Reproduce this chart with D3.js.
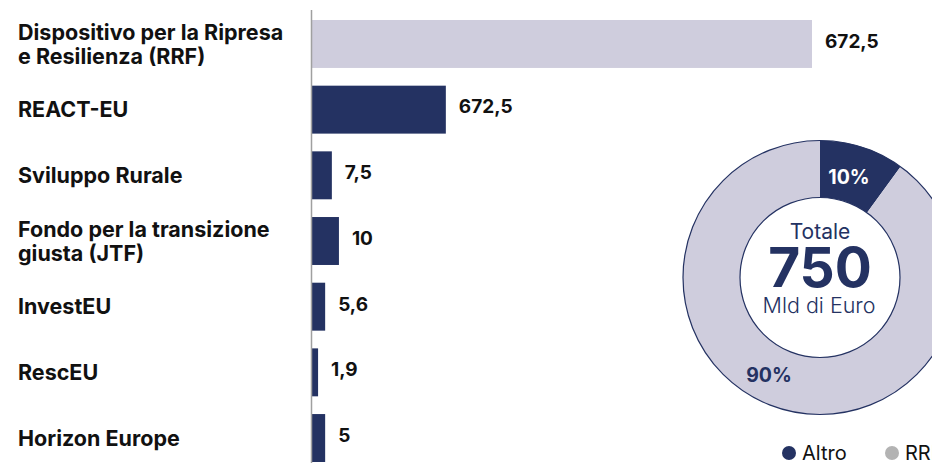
<!DOCTYPE html>
<html>
<head>
<meta charset="utf-8">
<script src="https://cdn.jsdelivr.net/npm/d3@7"></script>
<style>
  body { margin: 0; background: #fff; }
  svg { display: block; font-family: Inter, "Noto Sans", sans-serif; }
</style>
</head>
<body>
<div id="chart"></div>
<script>
// Dati
const categorie = [
  ["Dispositivo per la Ripresa", "e Resilienza (RRF)"],
  ["REACT-EU"],
  ["Sviluppo Rurale"],
  ["Fondo per la transizione", "giusta (JTF)"],
  ["InvestEU"],
  ["RescEU"],
  ["Horizon Europe"]
];
const etichette = ["672,5", "672,5", "7,5", "10", "5,6", "1,9", "5"];
// lunghezza delle barre come disegnate nell'originale (non proporzionali alle etichette)
const lunghezze = [672.5, 181, 28, 37.5, 19, 9.5, 19];
const ciambellaQuote = [10, 90];
const legendaNomi = ["Altro", "RRF"];

const navy = "#243262", lilla = "#cfcddd";

const W = 932, H = 463;
const svg = d3.select("#chart").append("svg")
  .attr("width", W).attr("height", H);

// Scale
const x = d3.scaleLinear().domain([0, 672.5]).range([0, 501]);
const y = d3.scaleBand()
  .domain(d3.range(categorie.length))
  .range([20, 462])
  .paddingInner(0.27)
  .paddingOuter(0);

const x0 = 311;

// Barre
svg.append("g").selectAll("rect")
  .data(lunghezze)
  .enter().append("rect")
  .attr("x", x0)
  .attr("y", (d, i) => y(i))
  .attr("width", d => x(d))
  .attr("height", y.bandwidth())
  .attr("fill", (d, i) => i === 0 ? lilla : navy);

// Asse verticale
svg.append("line")
  .attr("x1", x0 + 0.5).attr("x2", x0 + 0.5)
  .attr("y1", 10).attr("y2", H)
  .attr("stroke", "#a0a0a0").attr("stroke-width", 1.5);

// Etichette valori
svg.append("g").selectAll("text")
  .data(etichette)
  .enter().append("text")
  .attr("x", (d, i) => x0 + x(lunghezze[i]) + 13)
  .attr("y", (d, i) => y(i) + y.bandwidth() / 2 - 3)
  .attr("dy", "0.36em")
  .style("font-size", "19px")
  .style("font-weight", 700)
  .attr("fill", "#111")
  .text(d => d);

// Etichette categorie
const cat = svg.append("g").selectAll("text")
  .data(categorie)
  .enter().append("text")
  .attr("y", (d, i) => y(i) + y.bandwidth() / 2 - (d.length - 1) * 12)
  .style("font-size", "21.5px")
  .style("font-weight", 700)
  .attr("fill", "#111");
cat.selectAll("tspan")
  .data(d => d)
  .enter().append("tspan")
  .attr("x", 18)
  .attr("dy", (d, i) => i === 0 ? "0.36em" : 24)
  .text(d => d);

// Ciambella
const cx = 820, cy = 277.5, rOut = 137, rIn = 80;
const g = svg.append("g").attr("transform", `translate(${cx},${cy})`);
const pie = d3.pie().sort(null).value(d => d);
const arc = d3.arc().innerRadius(rIn).outerRadius(rOut);
const archi = pie(ciambellaQuote);

g.selectAll("path")
  .data(archi)
  .enter().append("path")
  .attr("d", arc)
  .attr("fill", (d, i) => i === 0 ? navy : lilla);

g.append("circle").attr("r", rOut).attr("fill", "none").attr("stroke", navy).attr("stroke-width", 1.2);
g.append("circle").attr("r", rIn).attr("fill", "none").attr("stroke", navy).attr("stroke-width", 1.2);

// Percentuali
g.append("text")
  .attr("x", 29).attr("y", -94)
  .attr("text-anchor", "middle")
  .style("font-size", "19.5px").style("font-weight", 700)
  .attr("fill", "#fff")
  .text(ciambellaQuote[0] + "%");
g.append("text")
  .attr("x", -51).attr("y", 104)
  .attr("text-anchor", "middle")
  .style("font-size", "19.5px").style("font-weight", 700)
  .attr("fill", navy)
  .text(ciambellaQuote[1] + "%");

// Testo centrale
g.append("text").attr("y", -39).attr("text-anchor", "middle")
  .style("font-size", "21px").style("font-weight", 400).attr("fill", navy)
  .text("Totale");
g.append("text").attr("y", 9.5).attr("text-anchor", "middle")
  .style("font-size", "55px").style("font-weight", 700).attr("fill", navy)
  .text("750");
g.append("text").attr("x", -1).attr("y", 35.5).attr("text-anchor", "middle")
  .style("font-size", "21.5px").style("font-weight", 300).attr("fill", navy)
  .text("Mld di Euro");

// Legenda
const legColori = [navy, "#b3b3b3"];
const leg = svg.append("g").selectAll("g")
  .data(legendaNomi)
  .enter().append("g")
  .attr("transform", (d, i) => `translate(${789 + i * 103}, 453)`);
leg.append("circle").attr("r", 7).attr("fill", (d, i) => legColori[i]);
leg.append("text")
  .attr("x", 13).attr("dy", "0.36em")
  .style("font-size", "20px").attr("fill", "#111")
  .text(d => d);
</script>
</body>
</html>
